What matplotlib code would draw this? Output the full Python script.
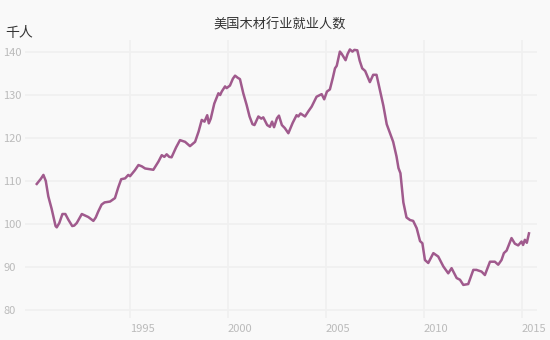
import matplotlib
matplotlib.use("Agg")
import matplotlib.pyplot as plt

plt.rcParams['font.family'] = ['Noto Sans CJK SC', 'DejaVu Sans']

title = "美国木材行业就业人数"
unit_label = "千人"

years = [
    1990.24, 1990.45, 1990.58, 1990.70, 1990.83, 1991.00, 1991.09, 1991.20, 1991.26, 1991.39,
    1991.55, 1991.70, 1991.85, 1992.05, 1992.15, 1992.28, 1992.54, 1992.87, 1993.13, 1993.25,
    1993.38, 1993.55, 1993.70, 1993.98, 1994.23, 1994.40, 1994.55, 1994.75, 1994.91, 1995.00,
    1995.25, 1995.43, 1995.60, 1995.77, 1996.19, 1996.45, 1996.62, 1996.75, 1996.87, 1997.00,
    1997.12, 1997.35, 1997.55, 1997.81, 1998.06, 1998.32, 1998.50, 1998.66, 1998.80, 1998.94,
    1999.02, 1999.12, 1999.30, 1999.51, 1999.60, 1999.68, 1999.85, 1999.93, 2000.10, 2000.25,
    2000.36, 2000.50, 2000.61, 2000.78, 2000.95, 2001.10, 2001.25, 2001.35, 2001.55, 2001.70,
    2001.80, 2002.00, 2002.14, 2002.25, 2002.35, 2002.50, 2002.60, 2002.75, 2002.90, 2003.08,
    2003.30, 2003.50, 2003.59, 2003.70, 2003.93, 2004.10, 2004.27, 2004.52, 2004.78, 2004.91,
    2005.05, 2005.20, 2005.35, 2005.46, 2005.55, 2005.71, 2005.80, 2006.00, 2006.10, 2006.22,
    2006.35, 2006.45, 2006.60, 2006.72, 2006.85, 2007.00, 2007.24, 2007.41, 2007.58, 2007.76,
    2007.93, 2008.10, 2008.27, 2008.43, 2008.60, 2008.70, 2008.80, 2008.95, 2009.11, 2009.29,
    2009.45, 2009.63, 2009.80, 2009.92, 2010.05, 2010.22, 2010.48, 2010.73, 2010.99, 2011.24,
    2011.41, 2011.67, 2011.84, 2012.01, 2012.26, 2012.52, 2012.68, 2012.94, 2013.11, 2013.37,
    2013.62, 2013.79, 2013.96, 2014.08, 2014.22, 2014.47, 2014.64, 2014.81, 2014.98, 2015.06,
    2015.15, 2015.25, 2015.36,
]
employment = [
    109.3, 110.5, 111.4, 110.0, 106.4, 103.5, 101.7, 99.5, 99.2, 100.2,
    102.3, 102.3, 101.0, 99.5, 99.6, 100.2, 102.3, 101.6, 100.7, 101.5,
    102.9, 104.5, 105.0, 105.2, 106.0, 108.5, 110.4, 110.6, 111.4, 111.1,
    112.5, 113.7, 113.4, 112.9, 112.6, 114.5, 116.0, 115.6, 116.2, 115.6,
    115.5, 117.8, 119.5, 119.1, 118.1, 119.1, 121.5, 124.2, 123.8, 125.3,
    123.4, 124.5, 128.0, 130.4, 130.0, 130.8, 132.0, 131.6, 132.2, 133.8,
    134.5, 134.0, 133.7, 130.4, 127.7, 125.0, 123.2, 123.0, 125.0, 124.5,
    124.8, 123.0, 122.6, 123.8, 122.5, 124.6, 125.2, 123.0, 122.3, 121.1,
    123.5, 125.3, 125.0, 125.7, 125.0, 126.2, 127.3, 129.6, 130.2, 129.0,
    130.8, 131.3, 134.0, 136.2, 136.8, 140.1, 139.6, 138.1, 139.5, 140.6,
    140.1, 140.5, 140.4, 138.0, 136.2, 135.6, 133.0, 134.7, 134.7, 131.0,
    127.5, 123.2, 121.1, 119.1, 115.7, 113.0, 111.8, 105.0, 101.5, 100.9,
    100.7, 99.0, 96.0, 95.5, 91.6, 90.9, 93.2, 92.4, 90.1, 88.5,
    89.7, 87.4, 87.0, 85.8, 86.0, 89.3, 89.3, 88.9, 88.1, 91.2,
    91.2, 90.5, 91.6, 93.2, 93.8, 96.7, 95.4, 95.0, 95.9, 95.1,
    96.3, 95.6, 97.8,
]

x_ticks = [1995, 2000, 2005, 2010, 2015]
y_ticks = [80, 90, 100, 110, 120, 130, 140]

bg = '#f9f9f9'
fig = plt.figure(figsize=(5.5, 3.4), dpi=100, facecolor=bg)
ax = fig.add_axes([25/550, 1 - 318/340, (537 - 25)/550, (318 - 40)/340])
ax.set_facecolor(bg)

ax.plot(years, employment, color='#a05a8d', lw=1.8, solid_joinstyle='round', zorder=3)

ax.set_xlim(1989.64, 2015.77)
ax.set_ylim(78.1, 142.8)
ax.set_xticks(x_ticks)
ax.set_yticks(y_ticks)
ax.set_xticklabels([str(t) for t in x_ticks], ha='left')
ax.set_yticklabels([str(t) for t in y_ticks], ha='left')
ax.tick_params(axis='both', length=0, labelsize=8, labelcolor='#bbbbbb')
ax.tick_params(axis='y', pad=15.8)
ax.tick_params(axis='x', pad=4)
ax.grid(True, color='#f0f0f0', lw=1.2)
for s in ax.spines.values():
    s.set_visible(False)

fig.text(279.5/550, 1 - 25/340, title, ha='center', va='center', fontsize=9.5, color='#333333')
fig.text(5/550, 1 - 33/340, unit_label, ha='left', va='center', fontsize=10, color='#333333')

fig.savefig('out.png', dpi=100, facecolor=bg)
